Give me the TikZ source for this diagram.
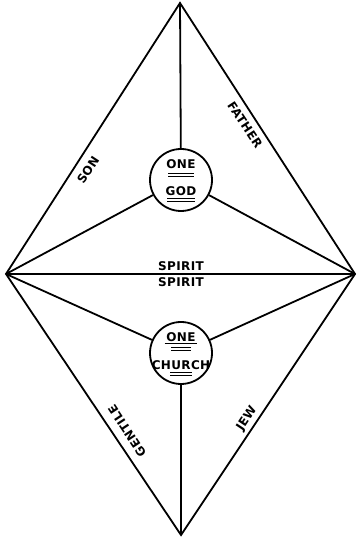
\documentclass[tikz,border=0pt]{standalone}
\usepackage{fontspec}
\usepackage{tikz}
\usetikzlibrary{positioning}
\newfontfamily\handfont[LetterSpace=3.0]{DejaVu Sans}
\begin{document}
\begin{tikzpicture}[x=1pt, y=1pt, line width=1.8pt,
  lbl/.style={font=\handfont\bfseries\fontsize{12}{14}\selectfont, inner sep=1pt},
  hub/.style={circle, draw, minimum size=62pt, inner sep=0pt},
  bar/.style={line width=1pt}]
  \useasboundingbox (0,0) rectangle (359,537);
  % corners of the diamond
  \coordinate (top) at (180,534);
  \coordinate (left) at (6,263);
  \coordinate (right) at (355,263);
  \coordinate (bot) at (181,2);
  % the two circles
  \node[hub] (god) at (181,357) {};
  \node[hub] (church) at (181,184) {};
  % outline and spokes
  \draw (top) -- (right) -- (bot) -- (left) -- cycle;
  \draw (left) -- (right);
  \draw (top) -- (god);
  \draw (left) -- (god);
  \draw (right) -- (god);
  \draw (left) -- (church);
  \draw (right) -- (church);
  \draw (church) -- (bot);
  % circle texts
  \node[lbl] (one1) at (181,373) {ONE};
  \node[lbl] (gd) at (181,346) {GOD};
  \draw[bar] ([xshift=-13pt,yshift=-3pt]one1.south) -- ++(26,0);
  \draw[bar] ([xshift=-13pt,yshift=-6pt]one1.south) -- ++(26,0);
  \draw[bar] ([xshift=-14pt,yshift=-1pt]gd.south) -- ++(28,0);
  \draw[bar] ([xshift=-14pt,yshift=-4pt]gd.south) -- ++(28,0);
  \node[lbl] (one2) at (181,200) {ONE};
  \node[lbl] (ch) at (181,172) {CHURCH};
  \draw[bar] (one2.south west) -- (one2.south east);
  \draw[bar] ([xshift=-10pt,yshift=-4.5pt]one2.south) -- ++(20,0);
  \draw[bar] ([xshift=-10pt,yshift=-7.5pt]one2.south) -- ++(20,0);
  \draw[bar] ([xshift=-11pt,yshift=-1.5pt]ch.south) -- ++(22,0);
  \draw[bar] ([xshift=-11pt,yshift=-4.5pt]ch.south) -- ++(22,0);
  % middle line
  \node[lbl, above=1pt of god.south|-left] (sp1) {SPIRIT};
  \node[lbl, below=1.5pt of god.south|-left] (sp2) {SPIRIT};
  % edge labels
  \node[lbl, rotate=56.6] (son) at (88,367) {SON};
  \node[lbl, rotate=-56.6] (father) at (245,412) {FATHER};
  \node[lbl, rotate=56.6] (jew) at (247,118) {JEW};
  \node[lbl, rotate=123.4] (gentile) at (127,106) {GENTILE};
\end{tikzpicture}
\end{document}
